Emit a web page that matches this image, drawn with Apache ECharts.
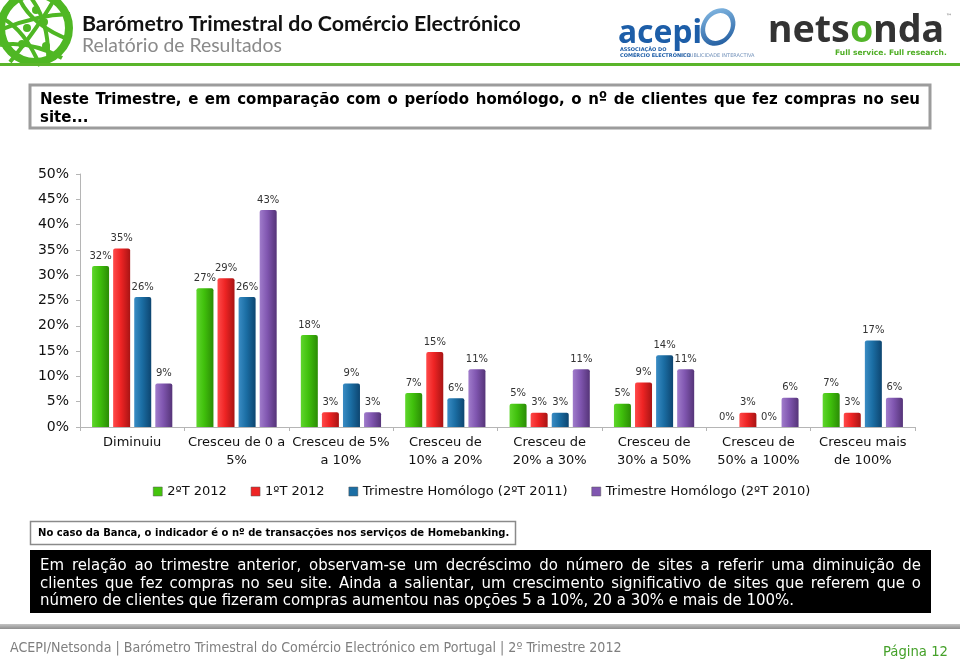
<!DOCTYPE html>
<html><head><meta charset="utf-8">
<script src="https://cdn.jsdelivr.net/npm/echarts@6/dist/echarts.min.js"></script>
<style>html,body{margin:0;padding:0;background:#fff}#c{width:960px;height:662px}</style>
</head><body><div id="c"></div>
<script>
// ---------- DATA ----------
const categories = ['Diminuiu','Cresceu de 0 a\n5%','Cresceu de 5%\na 10%','Cresceu de\n10% a 20%','Cresceu de\n20% a 30%','Cresceu de\n30% a 50%','Cresceu de\n50% a 100%','Cresceu mais\nde 100%'];
const seriesNames = ['2ºT 2012','1ºT 2012','Trimestre Homólogo (2ºT 2011)','Trimestre Homólogo (2ºT 2010)'];
const q2_2012 = [31.8, 27.4, 18.2, 6.7, 4.6, 4.6, 0, 6.7];
const q1_2012 = [35.3, 29.4, 2.9, 14.8, 2.8, 8.8, 2.8, 2.8];
const hom2011 = [25.7, 25.7, 8.6, 5.7, 2.8, 14.2, 0, 17.1];
const hom2010 = [8.6, 42.9, 2.9, 11.4, 11.4, 11.4, 5.8, 5.8];
const yMin = 0, yMax = 50, yStep = 5;

const headerTitle = 'Barómetro Trimestral do Comércio Electrónico';
const headerSub = 'Relatório de Resultados';
const questionLines = ['Neste Trimestre, e em comparação com o período homólogo, o nº de clientes que fez compras no seu','site...'];
const noteText = 'No caso da Banca, o indicador é o nº de transacções nos serviços de Homebanking.';
const summaryLines = ['Em relação ao trimestre anterior, observam-se um decréscimo do número de sites a referir uma diminuição de',
 'clientes que fez compras no seu site. Ainda a salientar, um crescimento significativo de sites que referem que o',
 'número de clientes que fizeram compras aumentou nas opções 5 a 10%, 20 a 30% e mais de 100%.'];
const footerText = 'ACEPI/Netsonda | Barómetro Trimestral do Comércio Electrónico em Portugal | 2º Trimestre 2012';
const pageText = 'Página 12';

// ---------- helpers ----------
const COND = '"DejaVu Sans Condensed"';
const VERD = '"DejaVu Sans"';
const ctx = document.createElement('canvas').getContext('2d');
function tw(text, size, family, weight){ ctx.font = (weight||'normal')+' '+size+'px '+family; return ctx.measureText(text).width; }
function fit(text, target, family, weight){ return 100*target/tw(text,100,family,weight); }
function txt(text, x, y, size, family, weight, fill, align){
  return {type:'text', silent:true, style:{text:text, x:x, y:y, fontSize:size, fontFamily:family, fontWeight:weight||'normal', fill:fill, align:align||'left', verticalAlign:'middle'}};
}
function justified(line, x0, x1, y, size, family, weight, fill){
  const words = line.split(' ');
  const ws = words.map(w=>tw(w,size,family,weight));
  const sum = ws.reduce((a,b)=>a+b,0);
  const gap = (x1-x0-sum)/(words.length-1);
  let x = x0; const out=[];
  words.forEach((w,i)=>{ out.push(txt(w,x,y,size,family,weight,fill)); x += ws[i]+gap; });
  return out;
}
function grad(c0,c1,c2){ return new echarts.graphic.LinearGradient(0,0,1,0,[{offset:0,color:c0},{offset:0.45,color:c1},{offset:1,color:c2}]); }

const palette = [grad('#5fd62c','#40c00c','#2b8c05'), grad('#ff4a4a','#ee2424','#a81414'), grad('#3a8cc4','#1b6ea4','#0d4570'), grad('#a07ccb','#8056b0','#553478')];
const legendColors = ['#44c40c','#ee2424','#1b6ea4','#8056b0'];
const allData = [q2_2012, q1_2012, hom2011, hom2010];

// ---------- graphics ----------
const g = [];
// logo globe
const LG = '#4fb724';
g.push({type:'circle', silent:true, shape:{cx:35, cy:28, r:34}, style:{fill:'#fff', stroke:LG, lineWidth:8}});
[
 [[2,18],[25,30],[40,66]],
 [[18,-4],[30,25],[70,40]],
 [[0,45],[30,40],[62,58]],
 [[28,-6],[50,20],[48,62]],
 [[55,-2],[40,25],[10,62]],
 [[0,30],[35,15],[70,14]]
].forEach(p=>{
  g.push({type:'bezierCurve', silent:true, shape:{x1:p[0][0],y1:p[0][1],cpx1:p[1][0],cpy1:p[1][1],x2:p[2][0],y2:p[2][1]}, style:{stroke:LG, lineWidth:4, fill:null}});
});
[[27,28],[44,22],[22,44],[46,46],[36,10]].forEach(p=>g.push({type:'circle',silent:true,shape:{cx:p[0],cy:p[1],r:4},style:{fill:LG}}));
// titles
g.push(txt(headerTitle, 82, 24, fit(headerTitle,439,'Lato','bold'), 'Lato','bold','#111'));
g.push(txt(headerSub, 82, 46, fit(headerSub,200,'Lato','normal'), 'Lato','normal','#8a8a8a'));
// acepi logo
g.push(txt('acepi', 618, 34, fit('acepi',84,'"Noto Sans"','bold'), '"Noto Sans"','bold','#1d5ea8'));
g.push({type:'ring', silent:true, shape:{cx:0, cy:0, r:19, r0:14}, x:718, y:27, scaleX:0.85, scaleY:1.05, rotation:-0.6, style:{fill:new echarts.graphic.LinearGradient(0,0,1,1,[{offset:0,color:'#8fc3ea'},{offset:1,color:'#134f96'}])}});
g.push(txt('ASSOCIAÇÃO DO', 620, 50, 5, VERD,'bold','#1d5ea8'));
g.push(txt('COMÉRCIO ELECTRÓNICO', 620, 56, 5, VERD,'bold','#1d5ea8'));
g.push(txt('E PUBLICIDADE INTERACTIVA', 682, 56, 5, VERD,'normal','#6f8fb8'));
// netsonda logo
const nsSize = fit('netsonda',176,'"Noto Sans"','bold');
g.push({type:'text', silent:true, style:{x:768, y:31, verticalAlign:'middle', text:'{a|nets}{b|o}{a|nda}', rich:{a:{fontSize:nsSize, fontFamily:'"Noto Sans"', fontWeight:'bold', fill:'#333'}, b:{fontSize:nsSize, fontFamily:'"Noto Sans"', fontWeight:'bold', fill:'#53b52a'}}}});
g.push(txt('™', 946, 16, 6, VERD,'normal','#555'));
g.push(txt('Full service. Full research.', 835, 53, fit('Full service. Full research.',112,VERD,'bold'), VERD,'bold','#4fae25'));
// green header line
g.push({type:'rect', silent:true, shape:{x:0,y:63,width:960,height:3}, style:{fill:'#5ab52a'}});
// question box
g.push({type:'rect', silent:true, shape:{x:30,y:85,width:900,height:43}, style:{fill:'#fff', stroke:'#9c9c9c', lineWidth:3}});
const qSize = fit(questionLines[0], 858, COND, 'bold');
justified(questionLines[0], 40, 920, 100, qSize, COND, 'bold', '#000').forEach(e=>g.push(e));
g.push(txt(questionLines[1], 40, 118, qSize, COND, 'bold', '#000'));
// note box
g.push({type:'rect', silent:true, shape:{x:30.5,y:521.5,width:485,height:23}, style:{fill:'#fff', stroke:'#8a8a8a', lineWidth:1.5}});
g.push(txt(noteText, 38, 533, fit(noteText,472,COND,'bold'), COND, 'bold', '#000'));
// summary black box
g.push({type:'rect', silent:true, shape:{x:30,y:550,width:901,height:63}, style:{fill:'#000'}});
const sSize = fit(summaryLines[2], 755, COND, 'normal');
justified(summaryLines[0], 40, 921, 566, sSize, COND, 'normal', '#fff').forEach(e=>g.push(e));
justified(summaryLines[1], 40, 921, 584, sSize, COND, 'normal', '#fff').forEach(e=>g.push(e));
g.push(txt(summaryLines[2], 40, 601, sSize, COND, 'normal', '#fff'));
// footer
g.push({type:'rect', silent:true, shape:{x:0,y:624,width:960,height:5}, style:{fill:new echarts.graphic.LinearGradient(0,0,0,1,[{offset:0,color:'#c4c4c4'},{offset:1,color:'#8e8e8e'}])}});
g.push(txt(footerText, 10, 648, fit(footerText,612,COND,'normal'), COND, 'normal', '#7f7f7f'));
g.push(txt(pageText, 883, 652, fit(pageText,65,COND,'normal'), COND, 'normal', '#45a12a'));

// ---------- chart ----------
const chart = echarts.init(document.getElementById('c'), null, {renderer:'canvas'});
chart.setOption({
  backgroundColor:'#fff',
  animation:false,
  grid:{left:80, right:45, top:174, bottom:235, containLabel:false},
  legend:{
    left:148, top:480, itemWidth:9, itemHeight:9, itemGap:24, icon:'rect',
    textStyle:{fontFamily:VERD, fontSize:13, color:'#111'},
    data: seriesNames.map((n,i)=>({name:n, itemStyle:{color:legendColors[i], borderColor:'#555', borderWidth:0.5}}))
  },
  xAxis:{type:'category', data:categories,
    axisLine:{lineStyle:{color:'#b5b5b5', width:1}},
    axisTick:{show:true, length:4, lineStyle:{color:'#b5b5b5'}},
    axisLabel:{interval:0, fontFamily:VERD, fontSize:13, color:'#111', lineHeight:18, margin:7}},
  yAxis:{type:'value', min:yMin, max:yMax, interval:yStep,
    axisLine:{show:true, lineStyle:{color:'#b5b5b5', width:1}},
    axisTick:{show:true, length:4, lineStyle:{color:'#b5b5b5'}},
    splitLine:{show:false},
    axisLabel:{formatter:'{value}%', fontFamily:VERD, fontSize:14, color:'#111', margin:11}},
  series: allData.map((d,i)=>({
    name:seriesNames[i], type:'bar', data:d, barWidth:17, barGap:'24%',
    itemStyle:{color:palette[i], borderRadius:[2,2,0,0]},
    label:{show:true, position:'top', distance:5, fontFamily:VERD, fontSize:10, color:'#333',
      formatter:p=>Math.round(p.value)+'%'}
  })),
  graphic: g
});
</script></body></html>
